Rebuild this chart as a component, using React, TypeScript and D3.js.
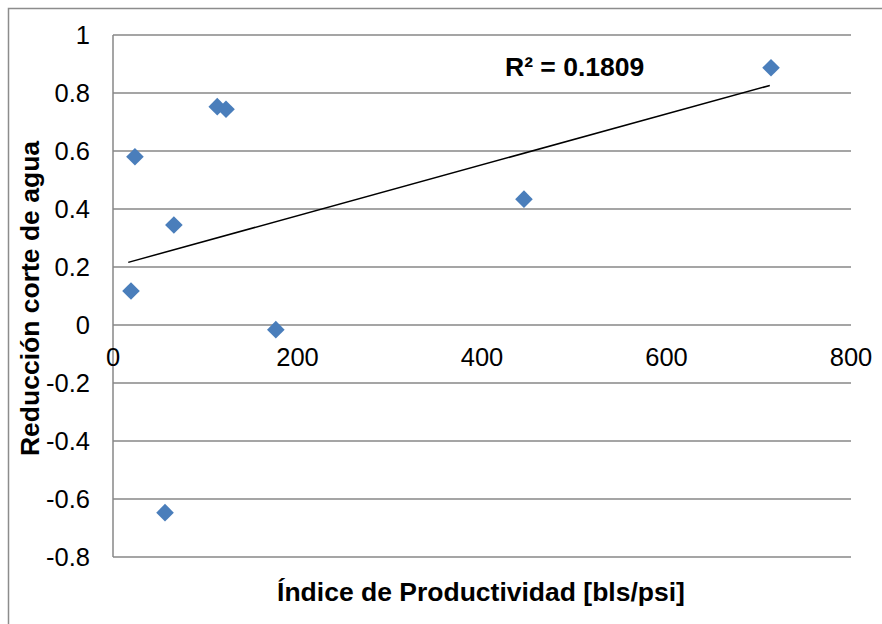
import React from "react";
import * as d3 from "d3";

const xValues = [23.8, 19.5, 66, 113, 122.5, 176.5, 56.4, 445.5, 713.3];
const yValues = [0.58, 0.117, 0.345, 0.753, 0.744, -0.016, -0.647, 0.434, 0.887];
// Linear trendline (start / end of the fitted line)
const trendX = [16.5, 712];
const trendY = [0.216, 0.826];
const xTicks = [0, 200, 400, 600, 800];
const yTicks = [1, 0.8, 0.6, 0.4, 0.2, 0, -0.2, -0.4, -0.6, -0.8];
const rSquaredLabel = "R² = 0.1809";
const xTitle = "Índice de Productividad [bls/psi]";
const yTitle = "Reducción corte de agua";

export default function App() {
  const W = 882, H = 624;
  const x = d3.scaleLinear().domain([0, 800]).range([113, 851]);
  const y = d3.scaleLinear().domain([-0.8, 1]).range([557, 35]);

  const line = d3.line<number>().x((d) => x(trendX[d])).y((d) => y(trendY[d]));

  const diamond = d3.symbol().type(d3.symbolSquare).size(155)()!;
  const font = "'Liberation Sans', Arial, sans-serif";
  const grid = "#878787";

  return (
    <svg width={W} height={H} style={{ position: "absolute", left: 0, top: 0 }} fontFamily={font}>
      <rect x={0} y={0} width={W} height={H} fill="#fff" />
      <rect x={8.5} y={8.5} width={W + 20} height={H + 20} fill="#fff" stroke="#8c8c8c" strokeWidth={1.5} />
      {yTicks.map((t) => (
        <line key={"g" + t} x1={x(0)} x2={x(800)} y1={y(t)} y2={y(t)} stroke={grid} strokeWidth={1.5} />
      ))}
      <line x1={x(0)} x2={x(0)} y1={y(1)} y2={y(-0.8)} stroke={grid} strokeWidth={1.5} />
      {yTicks.map((t) => (
        <text key={"yt" + t} x={90} y={y(t)} dy="0.35em" textAnchor="end" fontSize={25.5} fill="#000">
          {String(t)}
        </text>
      ))}
      {xTicks.map((t) => (
        <text key={"xt" + t} x={x(t)} y={357} dy="0.35em" textAnchor="middle" fontSize={25.5} fill="#000">
          {String(t)}
        </text>
      ))}
      <path d={line([0, 1])!} stroke="#000" strokeWidth={1.5} fill="none" />
      {xValues.map((v, i) => (
        <path key={"p" + i} d={diamond} transform={`translate(${x(v)},${y(yValues[i])}) rotate(45)`} fill="#4a7ebb" />
      ))}
      <text x={505} y={67} dy="0.35em" fontSize={26.5} fontWeight="bold" fill="#000">{rSquaredLabel}</text>
      <text x={481} y={592} dy="0.35em" textAnchor="middle" fontSize={26.5} fontWeight="bold" fill="#000">{xTitle}</text>
      <text transform={`translate(30,298.5) rotate(-90)`} dy="0.35em" textAnchor="middle" fontSize={26.5} fontWeight="bold" fill="#000">{yTitle}</text>
    </svg>
  );
}
